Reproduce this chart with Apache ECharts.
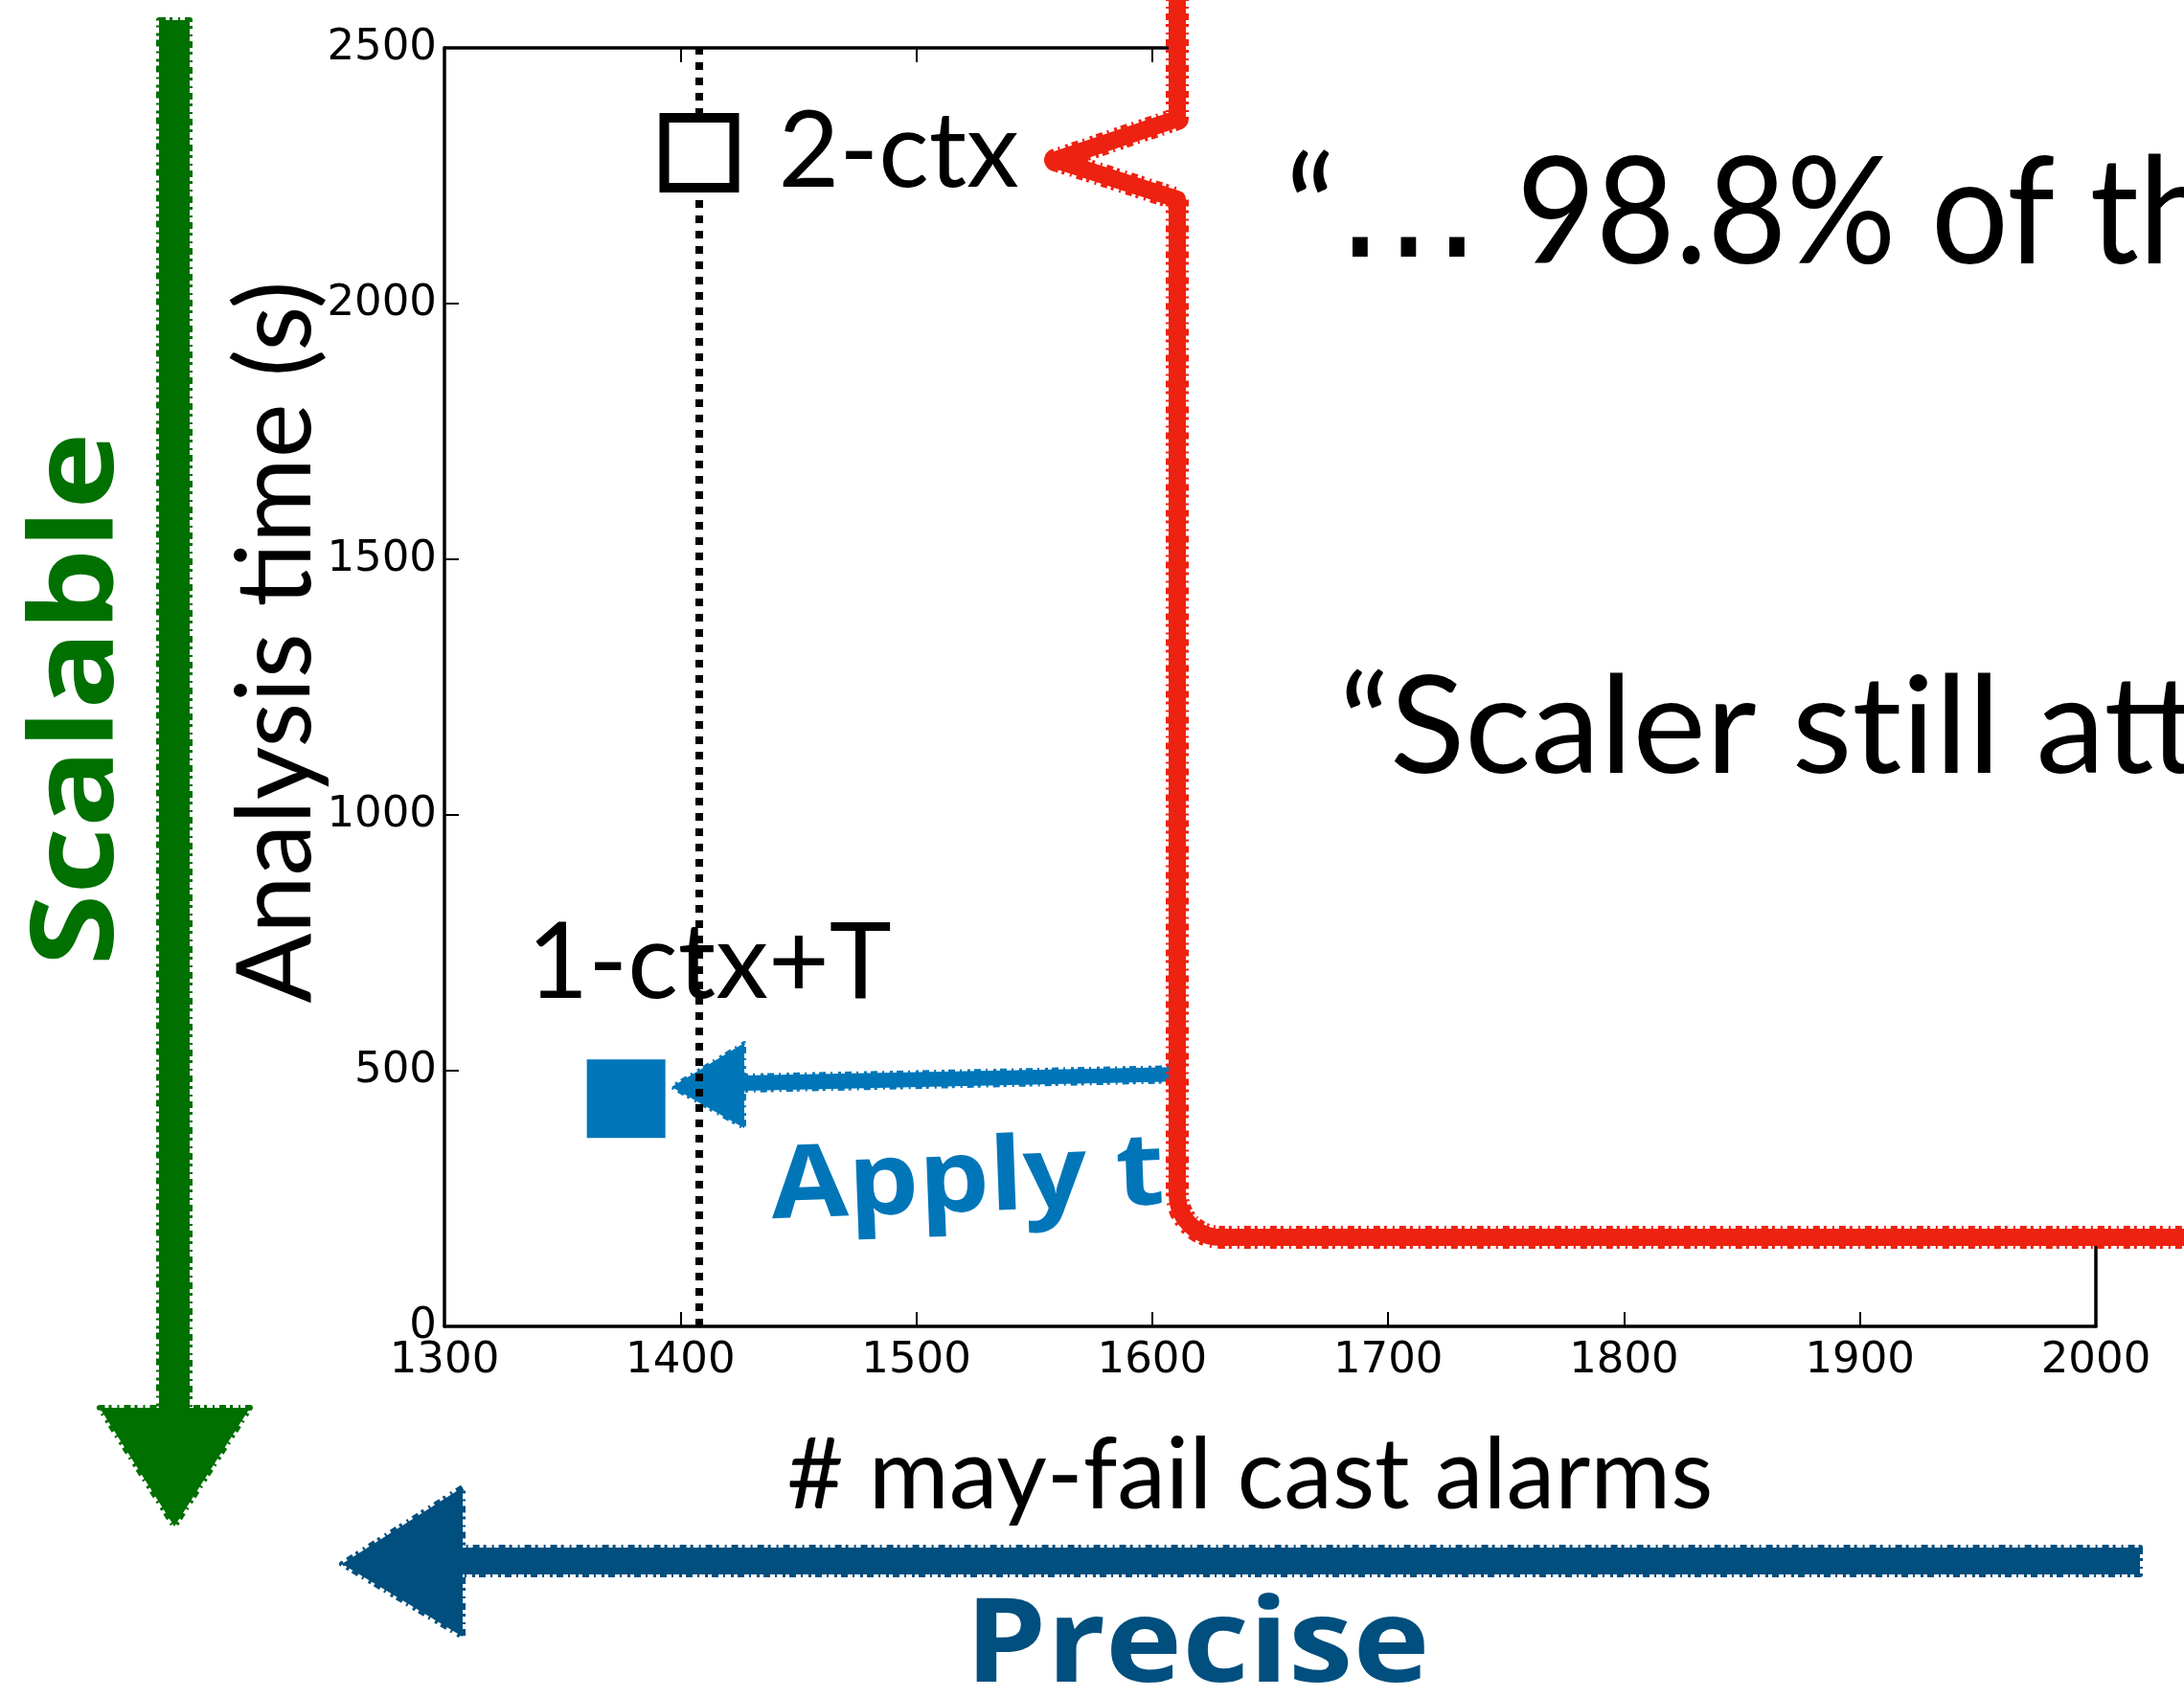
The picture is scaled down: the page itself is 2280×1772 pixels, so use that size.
<!DOCTYPE html>
<html>
<head>
<meta charset="utf-8">
<script src="https://cdn.jsdelivr.net/npm/echarts@6/dist/echarts.min.js"></script>
<style>
  html, body { margin: 0; padding: 0; background: #fff; }
  #chart { width: 2280px; height: 1772px; }
</style>
</head>
<body>
<div id="chart"></div>
<script>
// Analysis configurations: may-fail cast alarms vs analysis time
const configNames = ['2-ctx', '1-ctx+T'];
const castAlarms = [1408, 1377];
const analysisTime = [2295, 445];

// Axis ranges and tick steps
const alarmRange = [1300, 2000];
const alarmStep = 100;
const timeRange = [0, 2500];
const timeStep = 500;

// Dotted reference line at the 2-ctx alarm count
const refAlarms = [1408];

// Annotation texts ({e|...} widens the ellipsis; ZWNJ keeps "ti" from forming a ligature)
const quoteLines = ['\u201C{e|\u2026} 98.8% of th', '\u201CScaler st\u200Cill att'];
const applyText = 'Apply th';

const RED = '#EE2211';
const GREEN = '#007000';
const NAVY = '#004F7E';
const BLUE = '#0076B9';

// Outline of the speech-bubble callout (pointer on the left, rounded lower-left corner)
function calloutOutline() {
  const left = 1229, bottom = 1292, r = 45;
  const pts = [[left, -40], [left, 124], [1102, 167], [left, 208], [left, bottom - r]];
  for (let i = 1; i < 12; i++) {
    const a = Math.PI - (i / 12) * (Math.PI / 2);
    pts.push([left + r + r * Math.cos(a), bottom - r + r * Math.sin(Math.PI - a)]);
  }
  pts.push([left + r, bottom], [2330, bottom], [2330, -40]);
  return pts;
}

// Hand-drawn look: a broken outline in the fill colour roughens the edges
function rough(color, width) {
  return { fill: color, stroke: color, lineWidth: width, lineDash: [7, 4, 3, 6, 2, 5], lineJoin: 'round' };
}

const chart = echarts.init(document.getElementById('chart'), null, { renderer: 'canvas' });

const axisBase = {
  type: 'value',
  axisLine: { show: true, onZero: false, lineStyle: { color: '#000', width: 3.5 } },
  axisTick: { show: true, inside: true, length: 15, lineStyle: { color: '#000', width: 2 } },
  splitLine: { show: false }
};

const tickFont = { fontFamily: 'DejaVu Sans', fontSize: 45, color: '#000', formatter: v => String(v) };

const option = {
  animation: false,
  backgroundColor: '#fff',
  grid: { left: 464, top: 50, width: 1724, height: 1335 },
  xAxis: [
    Object.assign({}, axisBase, {
      min: alarmRange[0], max: alarmRange[1], interval: alarmStep, position: 'bottom',
      axisLabel: Object.assign({ margin: 14 }, tickFont),
      name: '# may-fail cast alarms', nameLocation: 'middle', nameGap: 106,
      nameTextStyle: { fontFamily: 'Lato', fontSize: 102, color: '#000', padding: [0, 42, 0, 0] }
    }),
    Object.assign({}, axisBase, {
      min: alarmRange[0], max: alarmRange[1], interval: alarmStep, position: 'top',
      axisLabel: { show: false }
    })
  ],
  yAxis: [
    Object.assign({}, axisBase, {
      min: timeRange[0], max: timeRange[1], interval: timeStep, position: 'left',
      axisLabel: Object.assign({ margin: 8 }, tickFont),
      name: 'Analysis time (s)', nameLocation: 'middle', nameGap: 121, nameMoveOverlap: false,
      nameTextStyle: { fontFamily: 'Lato', fontSize: 108, color: '#000', padding: [0, 0, 0, 94] }
    }),
    Object.assign({}, axisBase, {
      min: timeRange[0], max: timeRange[1], interval: timeStep, position: 'right',
      axisLabel: { show: false }
    })
  ],
  series: [
    {
      type: 'scatter', name: configNames[1], z: 3, symbol: 'rect', symbolSize: 82,
      data: [[castAlarms[1], analysisTime[1]]],
      itemStyle: { color: BLUE, opacity: 1 },
      label: {
        show: true, formatter: configNames[1], position: 'inside', offset: [87, -141],
        fontFamily: 'Lato', fontSize: 110, color: '#000', opacity: 1
      }
    },
    {
      type: 'line', name: 'ref', data: [], silent: true,
      markLine: {
        silent: true, symbol: ['none', 'none'], label: { show: false },
        lineStyle: { color: '#000', width: 8, type: [8, 8], opacity: 1 },
        data: refAlarms.map(v => ({ xAxis: v }))
      }
    },
    {
      type: 'scatter', name: configNames[0], z: 6, symbol: 'rect', symbolSize: 73,
      data: [[castAlarms[0], analysisTime[0]]],
      itemStyle: { color: '#fff', borderColor: '#000', borderWidth: 10, opacity: 1 },
      label: {
        show: true, formatter: configNames[0], position: 'right', distance: 41,
        fontFamily: 'Lato', fontSize: 110, color: '#000', opacity: 1
      }
    }
  ],
  graphic: [
    // vertical "Scalable" arrow
    {
      type: 'polygon', z: 1, silent: true,
      shape: { points: [[166, 21], [198, 21], [198, 1470], [261, 1470], [182, 1594], [104, 1470], [166, 1470]] },
      style: rough(GREEN, 6)
    },
    {
      type: 'text', z: 1, silent: true, x: 84, y: 730, rotation: Math.PI / 2, scaleX: 1.13,
      style: { text: 'Scalable', font: 'bold 120px "Open Sans"', fill: GREEN, align: 'center', verticalAlign: 'middle' }
    },
    // horizontal "Precise" arrow
    {
      type: 'polygon', z: 1, silent: true,
      shape: { points: [[2234, 1616], [2234, 1644], [483, 1644], [483, 1709], [357, 1633], [483, 1553], [483, 1616]] },
      style: rough(NAVY, 6)
    },
    {
      type: 'text', z: 1, silent: true, x: 1250, y: 1721, scaleX: 1.11,
      style: { text: 'Precise', font: 'bold 122px "Open Sans"', fill: NAVY, align: 'center', verticalAlign: 'middle' }
    },
    // arrow pointing to the 1-ctx+T result
    {
      type: 'polygon', z: 1, silent: true,
      shape: { points: [[1240, 1114], [777, 1123], [777, 1089], [701, 1135], [777, 1178], [777, 1139], [1240, 1129]] },
      style: rough(BLUE, 4)
    },
    {
      type: 'text', z: 1, silent: true, x: 805, y: 1242, rotation: 0.037, scaleX: 1.1,
      style: { text: applyText, font: 'bold 106px "Open Sans"', fill: BLUE, align: 'left', verticalAlign: 'middle' }
    },
    // speech-bubble callout
    {
      type: 'polygon', z: 100, silent: true,
      shape: { points: calloutOutline() },
      style: { fill: '#fff', stroke: RED, lineWidth: 18, lineJoin: 'round' }
    },
    {
      type: 'polygon', z: 100, silent: true,
      shape: { points: calloutOutline() },
      style: { fill: null, stroke: RED, lineWidth: 24, lineDash: [7, 4, 3, 6, 2, 5], lineJoin: 'round' }
    },
    {
      type: 'text', z: 101, silent: true, x: 1342, y: 225, scaleX: 0.92,
      style: {
        text: quoteLines[0], font: '155px Lato', fill: '#000', align: 'left', verticalAlign: 'middle',
        rich: { e: { font: '165px "DejaVu Sans"', fill: '#000', width: 166, align: 'center' } }
      }
    },
    {
      type: 'text', z: 101, silent: true, x: 1398, y: 761, scaleX: 1.02,
      style: { text: quoteLines[1], font: '142px Lato', fill: '#000', align: 'left', verticalAlign: 'middle' }
    }
  ]
};

chart.setOption(option);
</script>
</body>
</html>
